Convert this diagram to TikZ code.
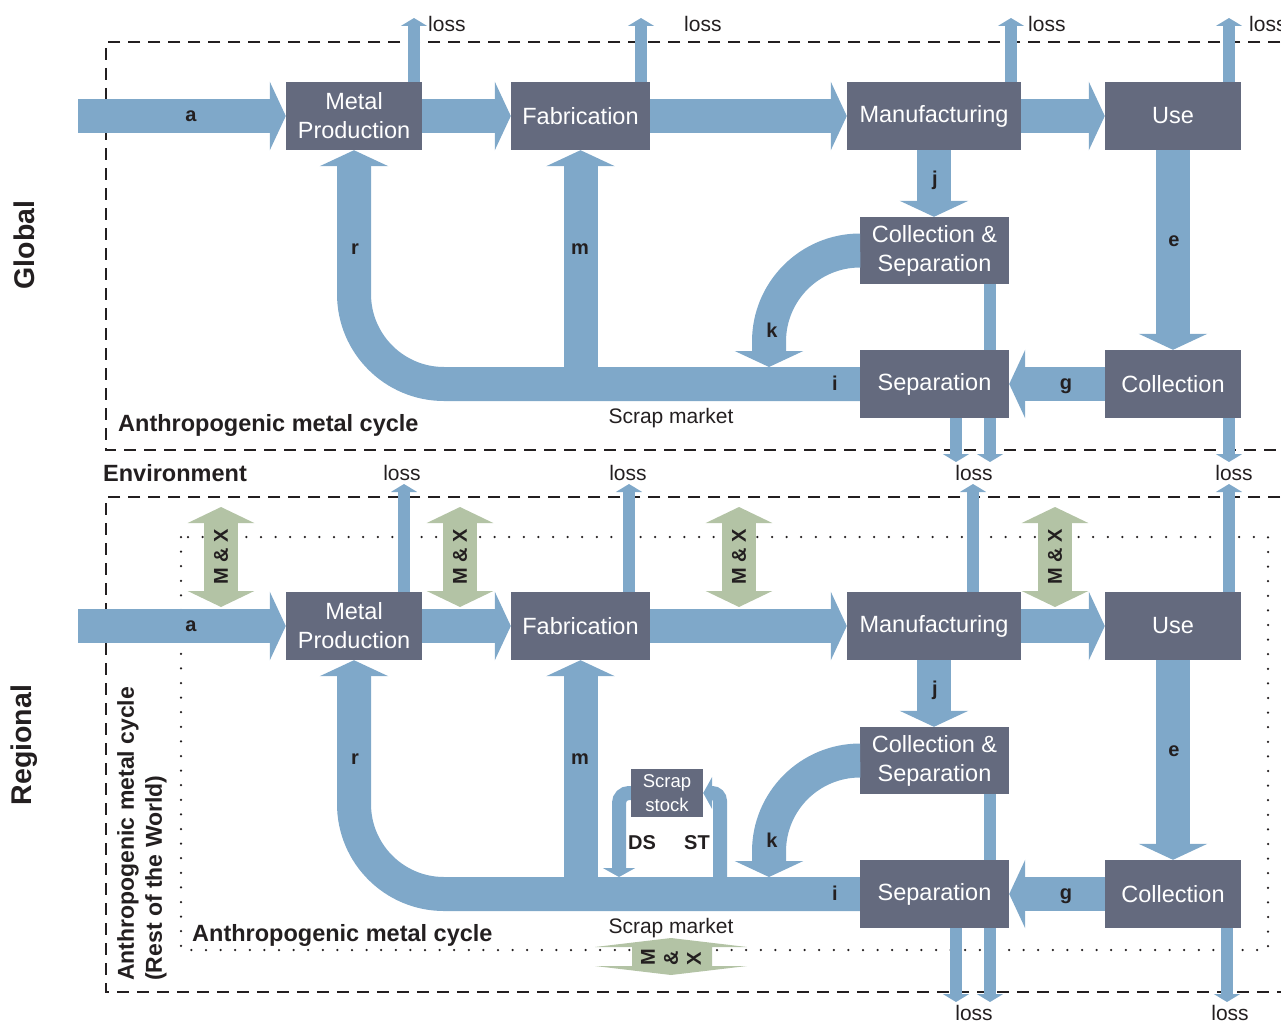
\documentclass[tikz,border=0pt]{standalone}
\usepackage{fontspec}
\setmainfont{Liberation Sans}
\usetikzlibrary{arrows.meta}

\definecolor{boxgray}{HTML}{646A7E}
\definecolor{flowblue}{HTML}{7FA8C9}
\definecolor{mxgreen}{HTML}{B3C3A5}
\definecolor{ink}{HTML}{231F20}

\tikzset{
  box/.style={fill=boxgray, text=white, inner sep=0pt, align=center,
    minimum height=68pt, font=\fontsize{23.5}{29}\selectfont},
  flow/.style={draw=flowblue, line width=34pt, -{Triangle[length=16pt,width=68pt]}},
  lossflow/.style={draw=flowblue, line width=12pt, -{Triangle[length=8pt,width=26pt]}},
  lossline/.style={draw=flowblue, line width=12pt},
  smallflow/.style={draw=flowblue, line width=14pt, -{Triangle[length=9pt,width=32pt]}},
  mxflow/.style={draw=mxgreen, line width=34pt,
    {Triangle[length=16pt,width=66pt]}-{Triangle[length=16pt,width=66pt]}},
  mxlbl/.style={text=ink, font=\bfseries\fontsize{20}{24}\selectfont, inner sep=0pt},
  lbl/.style={text=ink, font=\bfseries\fontsize{20}{24}\selectfont, inner sep=0pt},
  losslbl/.style={text=ink, font=\fontsize{21}{25}\selectfont, inner sep=0pt},
  title/.style={text=ink, font=\bfseries\fontsize{23.5}{28}\selectfont, inner sep=0pt},
  boundary/.style={draw=ink, line width=1.5pt, dash pattern=on 12pt off 8pt},
  region/.style={draw=ink, line width=2.5pt, line cap=round, dash pattern=on 0pt off 14.6pt},
}

\begin{document}
\begin{tikzpicture}[x=1pt, y=-1pt]
\useasboundingbox (0,0) rectangle (1281,1025);
\clip (0,0) rectangle (1281,1025);

% System boundaries
\draw[boundary] (1300,42) -- (106,42) -- (106,450) -- (1300,450);
\draw[boundary] (1300,497) -- (106,497) -- (106,992) -- (1300,992);
\draw[region] (181,537) rectangle (1268,950);

\node[title, rotate=90] (global) at (24,245) {\fontsize{28.5}{32}\selectfont Global};
\node[title, rotate=90] (regional) at (24,745) {\fontsize{28.5}{32}\selectfont Regional};
\node[title, anchor=west] (env) at (103,473) {Environment};

% Global
\node[box, minimum width=136pt] (mp1) at (354,116) {Metal\\Production};
\node[box, minimum width=139pt] (fab1) at (580.5,116) {Fabrication};
\node[box, minimum width=174pt] (man1) at (934,116) {Manufacturing};
\node[box, minimum width=136pt] (use1) at (1173,116) {Use};
\node[box, minimum width=149pt, minimum height=67pt] (cs1) at (934.5,250.5) {Collection \&\\Separation};
\node[box, minimum width=149pt] (sep1) at (934.5,384) {Separation};
\node[box, minimum width=136pt] (col1) at (1173,384) {Collection};

\coordinate (in1) at (78,116);
\draw[flow] (in1) -- (mp1.west);
\draw[flow] (mp1.east) -- (fab1.west);
\draw[flow] (fab1.east) -- (man1.west);
\draw[flow] (man1.east) -- (use1.west);
\draw[flow] (man1.south) -- (man1.south |- cs1.north);
\draw[flow] (use1.south) -- (col1.north);
\draw[flow] (col1.west) -- (sep1.east);
\draw[flow, rounded corners=90pt] (sep1.west) -- (mp1.south |- sep1.west) -- (mp1.south);
\draw[flow] (fab1.south |- sep1.west) -- (fab1.south);
\coordinate (k1) at (769,367);
\draw[flow, rounded corners=91pt] (cs1.west) -| (k1);

% Global losses
\coordinate (lmp1) at (414,18);
\coordinate (lfab1) at (641,18);
\coordinate (lman1) at (1011,18);
\coordinate (luse1) at (1229,18);
\coordinate (lsepa1) at (956,462);
\coordinate (lsepb1) at (990,462);
\coordinate (lcol1) at (1229,462);
\draw[lossflow] (lmp1 |- mp1.north) -- (lmp1);
\draw[lossflow] (lfab1 |- fab1.north) -- (lfab1);
\draw[lossflow] (lman1 |- man1.north) -- (lman1);
\draw[lossflow] (luse1 |- use1.north) -- (luse1);
\draw[lossline] (lsepb1 |- cs1.south) -- (lsepb1 |- sep1.north);
\draw[lossflow] (lsepa1 |- sep1.south) -- (lsepa1);
\draw[lossflow] (lsepb1 |- sep1.south) -- (lsepb1);
\draw[lossflow] (lcol1 |- col1.south) -- (lcol1);

\node[losslbl, anchor=west] at (428,24) {loss};
\node[losslbl, anchor=west] at (684,24) {loss};
\node[losslbl, anchor=west] at (1028,24) {loss};
\node[losslbl, anchor=west] at (1249,24) {loss};

\node[lbl] at (191,116) {a};
\node[lbl] at (355,249) {r};
\node[lbl] at (580,249) {m};
\node[lbl] at (935,180) {j};
\node[lbl] at (1174,241) {e};
\node[lbl] at (772,330) {k};
\node[lbl] at (835,383) {i};
\node[lbl] at (1066,386) {g};
\node[losslbl] at (671,418) {Scrap market};
\node[title, anchor=west] at (118,425) {Anthropogenic metal cycle};

% Regional
\node[box, minimum width=136pt] (mp2) at (354,626) {Metal\\Production};
\node[box, minimum width=139pt] (fab2) at (580.5,626) {Fabrication};
\node[box, minimum width=174pt] (man2) at (934,626) {Manufacturing};
\node[box, minimum width=136pt] (use2) at (1173,626) {Use};
\node[box, minimum width=149pt, minimum height=67pt] (cs2) at (934.5,760.5) {Collection \&\\Separation};
\node[box, minimum width=149pt] (sep2) at (934.5,894) {Separation};
\node[box, minimum width=136pt] (col2) at (1173,894) {Collection};
\node[box, minimum width=72pt, minimum height=48pt, font=\fontsize{18.5}{24}\selectfont] (sst) at (667,793) {Scrap\\stock};

\coordinate (in2) at (78,626);
\draw[flow] (in2) -- (mp2.west);
\draw[flow] (mp2.east) -- (fab2.west);
\draw[flow] (fab2.east) -- (man2.west);
\draw[flow] (man2.east) -- (use2.west);
\draw[flow] (man2.south) -- (man2.south |- cs2.north);
\draw[flow] (use2.south) -- (col2.north);
\draw[flow] (col2.west) -- (sep2.east);
\draw[flow, rounded corners=90pt] (sep2.west) -- (mp2.south |- sep2.west) -- (mp2.south);
\draw[flow] (fab2.south |- sep2.west) -- (fab2.south);
\coordinate (k2) at (769,877);
\draw[flow, rounded corners=91pt] (cs2.west) -| (k2);
\coordinate (ds) at (619,877);
\coordinate (st) at (720,877);
\draw[smallflow, rounded corners=10pt] (sst.west) -| (ds);
\draw[smallflow, rounded corners=8pt] (st) |- (sst.east);

% Regional losses
\coordinate (lmp2) at (404,484);
\coordinate (lfab2) at (629,484);
\coordinate (lman2) at (973,484);
\coordinate (luse2) at (1229,484);
\coordinate (lsepa2) at (956,1002);
\coordinate (lsepb2) at (990,1002);
\coordinate (lcol2) at (1227,1002);
\draw[lossflow] (lmp2 |- mp2.north) -- (lmp2);
\draw[lossflow] (lfab2 |- fab2.north) -- (lfab2);
\draw[lossflow] (lman2 |- man2.north) -- (lman2);
\draw[lossflow] (luse2 |- use2.north) -- (luse2);
\draw[lossline] (lsepb2 |- cs2.south) -- (lsepb2 |- sep2.north);
\draw[lossflow] (lsepa2 |- sep2.south) -- (lsepa2);
\draw[lossflow] (lsepb2 |- sep2.south) -- (lsepb2);
\draw[lossflow] (lcol2 |- col2.south) -- (lcol2);

\node[losslbl] at (402,473) {loss};
\node[losslbl] at (628,473) {loss};
\node[losslbl] at (974,473) {loss};
\node[losslbl] at (1234,473) {loss};
\node[losslbl] at (974,1013) {loss};
\node[losslbl] at (1230,1013) {loss};

% Imports and exports
\coordinate (mxt1) at (221,507); \coordinate (mxb1) at (221,607);
\coordinate (mxt2) at (460,507); \coordinate (mxb2) at (460,607);
\coordinate (mxt3) at (739,507); \coordinate (mxb3) at (739,607);
\coordinate (mxt4) at (1055,507); \coordinate (mxb4) at (1055,607);
\draw[mxflow] (mxt1) -- node[mxlbl, rotate=90] {M \& X} (mxb1);
\draw[mxflow] (mxt2) -- node[mxlbl, rotate=90] {M \& X} (mxb2);
\draw[mxflow] (mxt3) -- node[mxlbl, rotate=90] {M \& X} (mxb3);
\draw[mxflow] (mxt4) -- node[mxlbl, rotate=90] {M \& X} (mxb4);
\fill[mxgreen] (595,947) -- (671,938) -- (747,947) -- (712,947) -- (712,966) -- (747,966)
  -- (671,975) -- (595,966) -- (632,966) -- (632,947) -- cycle;
\node[mxlbl] (mx5) at (671,957)
  {\rotatebox{90}{M}\hspace{9pt}\rotatebox{90}{\&}\hspace{9pt}\rotatebox{90}{X}};

\node[lbl] at (191,626) {a};
\node[lbl] at (355,759) {r};
\node[lbl] at (580,759) {m};
\node[lbl] at (935,690) {j};
\node[lbl] at (1174,751) {e};
\node[lbl] at (772,840) {k};
\node[lbl] at (835,893) {i};
\node[lbl] at (1066,896) {g};
\node[lbl] at (642,843) {DS};
\node[lbl] at (697,843) {ST};
\node[losslbl] at (671,928) {Scrap market};
\node[title, anchor=west] at (192,935) {Anthropogenic metal cycle};
\node[title, rotate=90, anchor=west, align=left, font=\bfseries\fontsize{23}{28}\selectfont] (row) at (142,981)
  {Anthropogenic metal cycle\\(Rest of the World)};
\end{tikzpicture}
\end{document}
